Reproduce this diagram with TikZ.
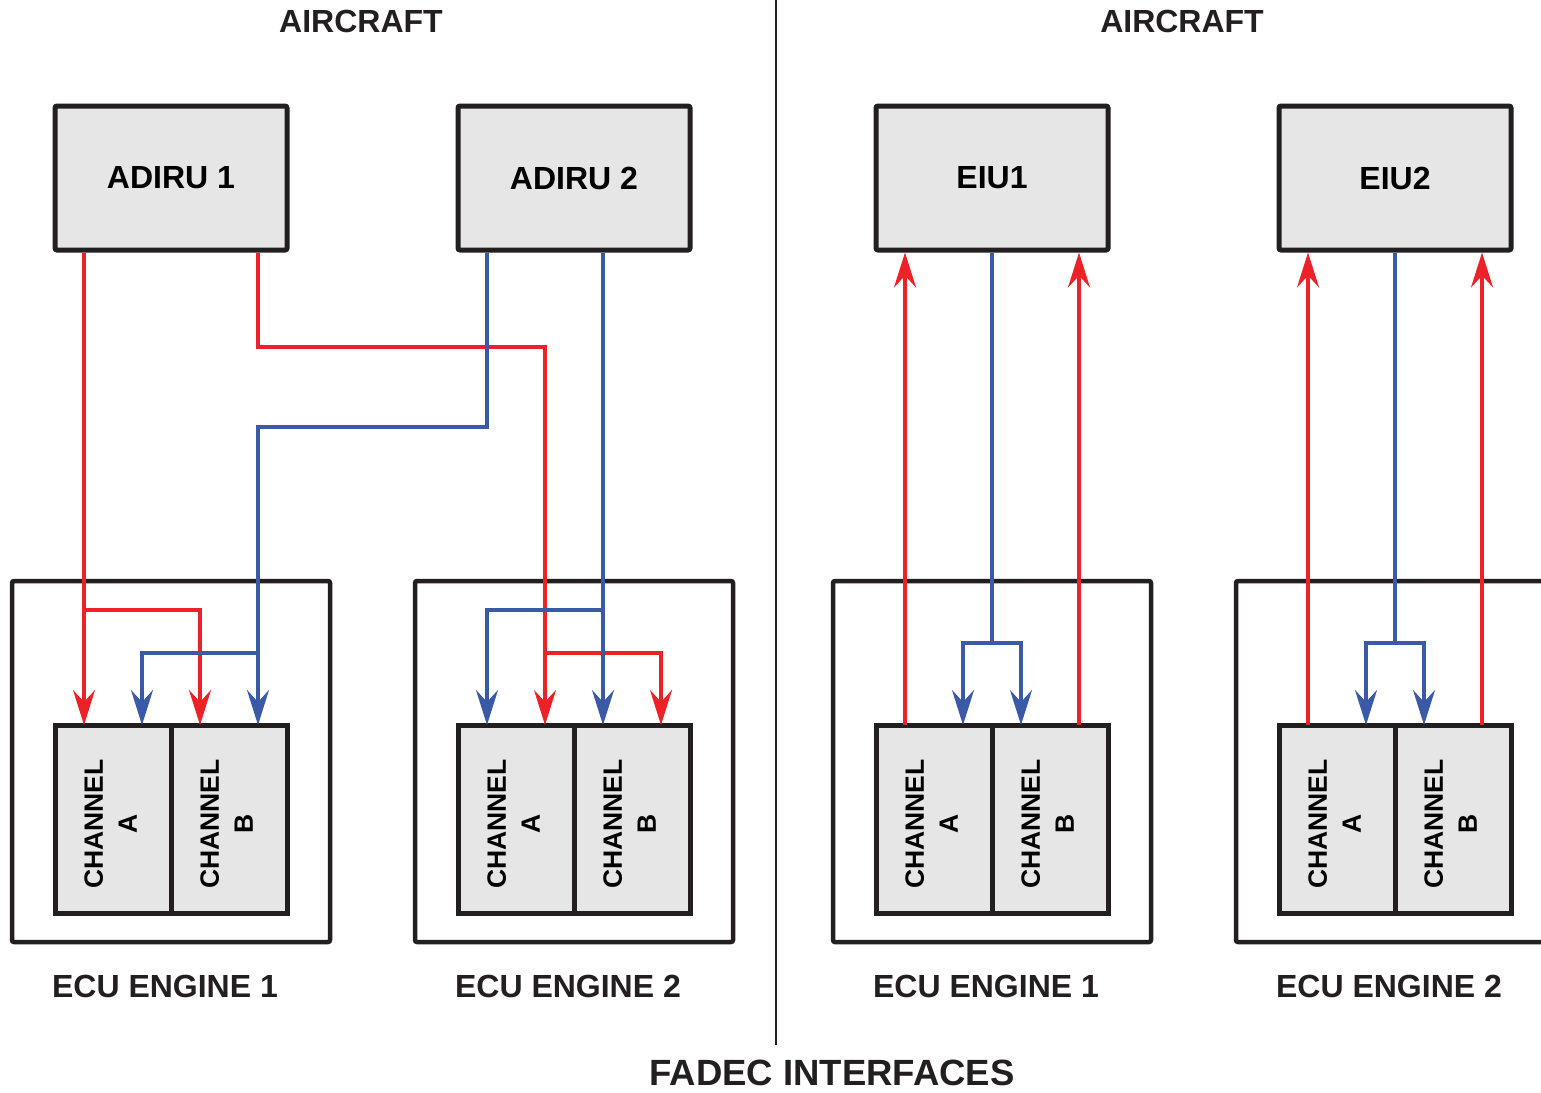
\documentclass[tikz,border=0pt]{standalone}
\usepackage{fontspec}
\setmainfont{Liberation Sans}
\usetikzlibrary{arrows.meta, positioning, calc}
\definecolor{cred}{HTML}{ED2228}
\definecolor{cblue}{HTML}{3A5AA8}
\definecolor{cgrey}{HTML}{E6E6E6}
\definecolor{cblack}{HTML}{231F20}
\tikzset{
  every picture/.style={font=\bfseries},
  unitbox/.style={draw=cblack, fill=cgrey, line width=5pt, rounded corners=2pt, minimum width=232pt, minimum height=144pt, font=\fontsize{32}{36}\selectfont\bfseries},
  ecubox/.style={draw=cblack, line width=4.5pt, rounded corners=2pt, minimum width=318pt, minimum height=361pt},
  chanbox/.style={draw=cblack, fill=cgrey, line width=5pt, outer sep=0pt, inner sep=0pt, minimum width=116pt, minimum height=188pt, font=\fontsize{26.5}{34}\selectfont\bfseries},
  sig/.style={draw=#1, line width=3.5pt, -{Stealth[length=35pt, width=22pt, inset=12pt]}},
  wire/.style={draw=#1, line width=3.5pt},
  headline/.style={font=\fontsize{32}{36}\selectfont\bfseries, text=cblack},
  bigtitle/.style={font=\fontsize{36.5}{42}\selectfont\bfseries, text=cblack},
}
\newcommand{\chanlabel}[1]{\rotatebox{90}{\begin{tabular}{@{}c@{}}CHANNEL\\#1\end{tabular}\hspace{10pt}}}

\begin{document}
\begin{tikzpicture}[x=1pt, y=-1pt]
  \clip (0,0) rectangle (1541,1092);
  % aircraft units
  \node[unitbox] (adiru1) at (171,178) {ADIRU 1};
  \node[unitbox] (adiru2) at (574,178) {ADIRU 2};
  \node[unitbox] (eiu1) at (992,178) {EIU1};
  \node[unitbox] (eiu2) at (1395,178) {EIU2};
  \node[headline] (acl) at (361,21) {AIRCRAFT};
  \node[headline] (acr) at (1182,21) {AIRCRAFT};
  \draw[cblack, line width=2pt] (776,0) -- (776,1045);
  \node[bigtitle] (fadec) at (832,1073) {FADEC INTERFACES};

  % ECU boxes with both channels
  \foreach \n/\x/\e in {1/171/1, 2/574/2, 3/992/1, 4/1395/2} {
    \node[ecubox] (ecu\n) at (\x,761.5) {};
    \node[chanbox] (e\n-a) at ([xshift=-58pt, yshift=-57.5pt]ecu\n.center) {\chanlabel{A}};
    \node[chanbox, right=0pt of e\n-a] (e\n-b) {\chanlabel{B}};
    \node[headline, below=27pt of ecu\n, xshift=-6pt] (lbl\n) {ECU ENGINE \e};
    \coordinate (e\n-a-l) at ([xshift=-29pt]e\n-a.north);
    \coordinate (e\n-a-r) at ([xshift=29pt]e\n-a.north);
    \coordinate (e\n-b-l) at ([xshift=-29pt]e\n-b.north);
    \coordinate (e\n-b-r) at ([xshift=29pt]e\n-b.north);
  }
  \coordinate (busR) at (0,347);
  \coordinate (busB) at (0,427);
  \coordinate (hi) at (0,610);
  \coordinate (mid) at (0,643);
  \coordinate (lo) at (0,653);

  % ADIRU 1 (red)
  \draw[sig=cred] (adiru1.south -| e1-a-l) -- (e1-a-l);
  \draw[sig=cred] (e1-a-l |- hi) -| (e1-b-l);
  \draw[sig=cred] (adiru1.south -| e1-b-r) |- (busR -| e2-a-r) -- (e2-a-r);
  \draw[sig=cred] (e2-a-r |- lo) -| (e2-b-r);
  % ADIRU 2 (blue)
  \draw[sig=cblue] (adiru2.south -| e2-a-l) |- (busB -| e1-b-r) -- (e1-b-r);
  \draw[sig=cblue] (e1-b-r |- lo) -| (e1-a-r);
  \draw[sig=cblue] (adiru2.south -| e2-b-l) -- (e2-b-l);
  \draw[sig=cblue] (e2-b-l |- hi) -| (e2-a-l);

  % EIU links
  \foreach \u/\n in {eiu1/3, eiu2/4} {
    \draw[sig=cred] (e\n-a-l) -- (\u.south -| e\n-a-l);
    \draw[sig=cred] (e\n-b-r) -- (\u.south -| e\n-b-r);
    \draw[wire=cblue] (\u.south) -- (\u.south |- mid);
    \draw[sig=cblue] (\u.south |- mid) -| (e\n-a-r);
    \draw[sig=cblue] (\u.south |- mid) -| (e\n-b-l);
  }
\end{tikzpicture}
\end{document}
